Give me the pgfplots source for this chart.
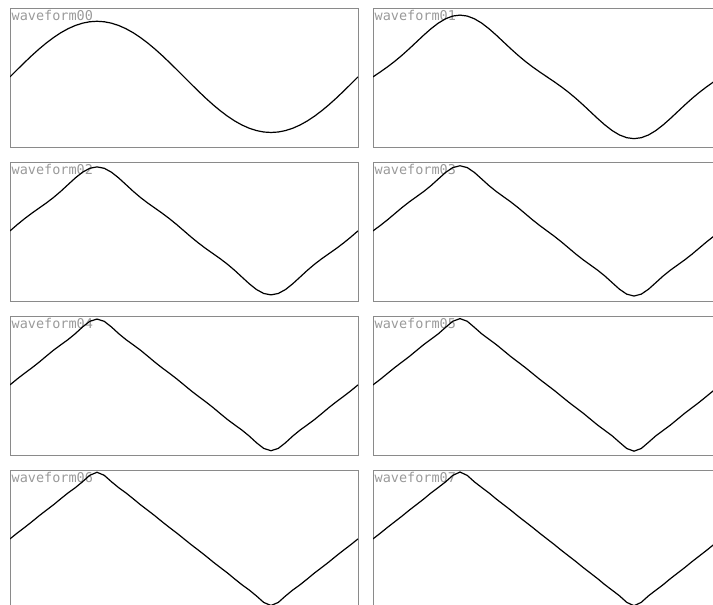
\documentclass[border=0pt]{standalone}
\usepackage{pgfplots}
\usepackage{pgfplotstable}
\pgfplotsset{compat=1.18}
\usepackage{fontspec}
\newfontfamily\monofont{DejaVu Sans Mono}
\definecolor{framegray}{HTML}{8A8A8A}
\definecolor{labelgray}{HTML}{9A9A9A}

% one period, x in degrees; w0 ... w7 are the eight waveforms
\pgfplotstableread{
x     w0      w1      w2      w3      w4      w5      w6      w7
0     0       0       0       0       0       0       0       0
7.5   0.1305  0.0880  0.1124  0.0962  0.1076  0.0994  0.1052  0.1011
15    0.2588  0.1803  0.2189  0.1992  0.2079  0.2058  0.2042  0.2074
22.5  0.3827  0.2800  0.3170  0.3092  0.3045  0.3121  0.3066  0.3083
30    0.5000  0.3889  0.4089  0.4191  0.4067  0.4109  0.4138  0.4094
37.5  0.6088  0.5061  0.5009  0.5211  0.5164  0.5098  0.5145  0.5162
45    0.7071  0.6285  0.6003  0.6147  0.6234  0.6176  0.6134  0.6165
52.5  0.7934  0.7508  0.7112  0.7085  0.7199  0.7249  0.7213  0.7172
60    0.8660  0.8660  0.8314  0.8137  0.8137  0.8209  0.8260  0.8260
67.5  0.9239  0.9664  0.9511  0.9322  0.9208  0.9177  0.9199  0.9240
75    0.9659  1.0445  1.0548  1.0496  1.0408  1.0329  1.0271  1.0240
82.5  0.9914  1.0941  1.1258  1.1383  1.1430  1.1441  1.1433  1.1416
90    1.0000  1.1111  1.1511  1.1715  1.1839  1.1921  1.1980  1.2025
97.5  0.9914  1.0941  1.1258  1.1383  1.1430  1.1441  1.1433  1.1416
105   0.9659  1.0445  1.0548  1.0496  1.0408  1.0329  1.0271  1.0240
112.5 0.9239  0.9664  0.9511  0.9322  0.9208  0.9177  0.9199  0.9240
120   0.8660  0.8660  0.8314  0.8137  0.8137  0.8209  0.8260  0.8260
127.5 0.7934  0.7508  0.7112  0.7085  0.7199  0.7249  0.7213  0.7172
135   0.7071  0.6285  0.6003  0.6147  0.6234  0.6176  0.6134  0.6165
142.5 0.6088  0.5061  0.5009  0.5211  0.5164  0.5098  0.5145  0.5162
150   0.5000  0.3889  0.4089  0.4191  0.4067  0.4109  0.4138  0.4094
157.5 0.3827  0.2800  0.3170  0.3092  0.3045  0.3121  0.3066  0.3083
165   0.2588  0.1803  0.2189  0.1992  0.2079  0.2058  0.2042  0.2074
172.5 0.1305  0.0880  0.1124  0.0962  0.1076  0.0994  0.1052  0.1011
180   0       0       0       0       0       0       0       0
187.5 -0.1305 -0.0880 -0.1124 -0.0962 -0.1076 -0.0994 -0.1052 -0.1011
195   -0.2588 -0.1803 -0.2189 -0.1992 -0.2079 -0.2058 -0.2042 -0.2074
202.5 -0.3827 -0.2800 -0.3170 -0.3092 -0.3045 -0.3121 -0.3066 -0.3083
210   -0.5000 -0.3889 -0.4089 -0.4191 -0.4067 -0.4109 -0.4138 -0.4094
217.5 -0.6088 -0.5061 -0.5009 -0.5211 -0.5164 -0.5098 -0.5145 -0.5162
225   -0.7071 -0.6285 -0.6003 -0.6147 -0.6234 -0.6176 -0.6134 -0.6165
232.5 -0.7934 -0.7508 -0.7112 -0.7085 -0.7199 -0.7249 -0.7213 -0.7172
240   -0.8660 -0.8660 -0.8314 -0.8137 -0.8137 -0.8209 -0.8260 -0.8260
247.5 -0.9239 -0.9664 -0.9511 -0.9322 -0.9208 -0.9177 -0.9199 -0.9240
255   -0.9659 -1.0445 -1.0548 -1.0496 -1.0408 -1.0329 -1.0271 -1.0240
262.5 -0.9914 -1.0941 -1.1258 -1.1383 -1.1430 -1.1441 -1.1433 -1.1416
270   -1.0000 -1.1111 -1.1511 -1.1715 -1.1839 -1.1921 -1.1980 -1.2025
277.5 -0.9914 -1.0941 -1.1258 -1.1383 -1.1430 -1.1441 -1.1433 -1.1416
285   -0.9659 -1.0445 -1.0548 -1.0496 -1.0408 -1.0329 -1.0271 -1.0240
292.5 -0.9239 -0.9664 -0.9511 -0.9322 -0.9208 -0.9177 -0.9199 -0.9240
300   -0.8660 -0.8660 -0.8314 -0.8137 -0.8137 -0.8209 -0.8260 -0.8260
307.5 -0.7934 -0.7508 -0.7112 -0.7085 -0.7199 -0.7249 -0.7213 -0.7172
315   -0.7071 -0.6285 -0.6003 -0.6147 -0.6234 -0.6176 -0.6134 -0.6165
322.5 -0.6088 -0.5061 -0.5009 -0.5211 -0.5164 -0.5098 -0.5145 -0.5162
330   -0.5000 -0.3889 -0.4089 -0.4191 -0.4067 -0.4109 -0.4138 -0.4094
337.5 -0.3827 -0.2800 -0.3170 -0.3092 -0.3045 -0.3121 -0.3066 -0.3083
345   -0.2588 -0.1803 -0.2189 -0.1992 -0.2079 -0.2058 -0.2042 -0.2074
352.5 -0.1305 -0.0880 -0.1124 -0.0962 -0.1076 -0.0994 -0.1052 -0.1011
360   0       0       0       0       0       0       0       0
}\wavedata

\pgfplotsset{
  panel/.style={
    anchor=north west,
    width=348pt, height=139pt, scale only axis,
    xmin=0, xmax=360, ymin=-1.27, ymax=1.23,
    xtick=\empty, ytick=\empty,
    axis line style={framegray, line width=1pt},
  },
}

% #1 waveform index, #2 left edge, #3 top edge (pt from page bottom)
\newcommand\wavepanel[3]{%
  \begin{axis}[panel, at={(#2pt,#3pt)}]
    \node[anchor=north west, inner sep=0pt, text=labelgray,
          font=\monofont\fontsize{13.5}{14}\selectfont]
      at (rel axis cs:0,1) [xshift=1.5pt, yshift=-1.5pt] {waveform0#1};
    \addplot[black, line width=1.2pt] table[x=x, y=w#1] {\wavedata};
  \end{axis}%
}

\begin{document}
\begin{tikzpicture}
\wavepanel{0}{10}{596.5}
\wavepanel{1}{373}{596.5}
\wavepanel{2}{10}{442.5}
\wavepanel{3}{373}{442.5}
\wavepanel{4}{10}{288.5}
\wavepanel{5}{373}{288.5}
\wavepanel{6}{10}{134.5}
\wavepanel{7}{373}{134.5}
% the right column and the bottom row run off the page, as in the reference
\pgfresetboundingbox
\path[use as bounding box] (0pt,0pt) rectangle (713pt,605pt);
\end{tikzpicture}
\end{document}
